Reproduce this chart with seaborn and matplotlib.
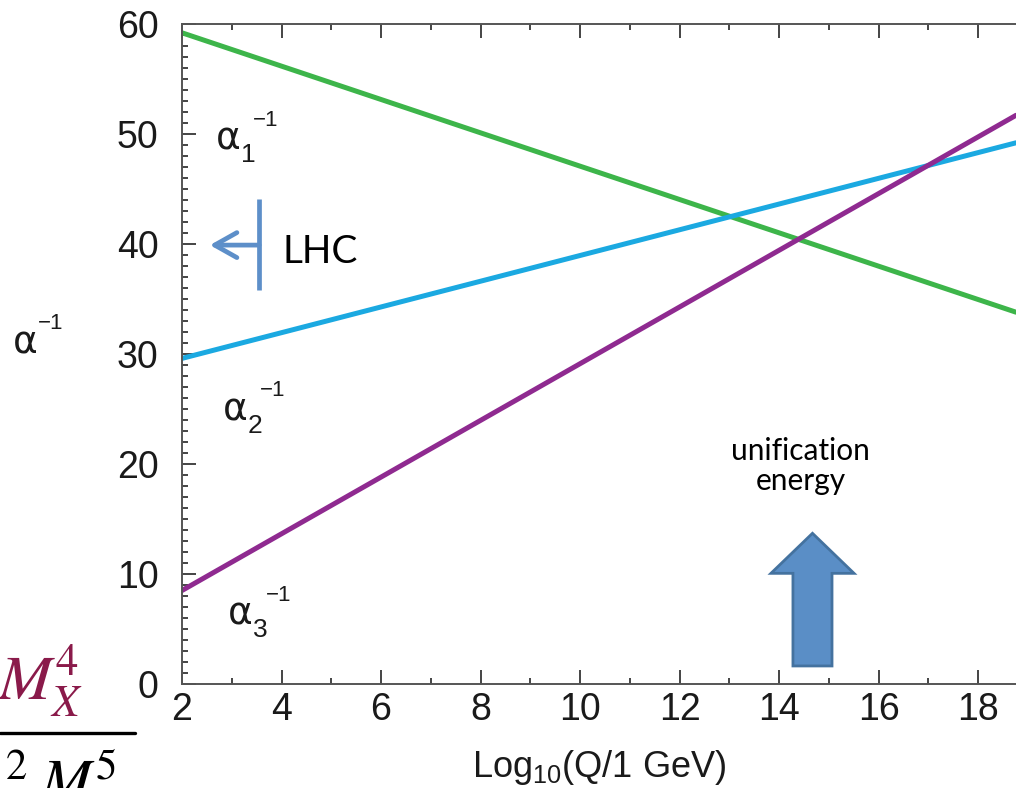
import pandas as pd
import numpy as np
import matplotlib.pyplot as plt
import seaborn as sns
from matplotlib.patches import FancyArrow
from matplotlib.ticker import MultipleLocator

# inverse couplings at the left edge (Q=100 GeV) and at the right edge of the plot
log_q = [2.0, 18.76]
alpha1_inv = [59.2, 33.8]
alpha2_inv = [29.6, 49.2]
alpha3_inv = [8.5, 51.7]

x_ticks = [2, 4, 6, 8, 10, 12, 14, 16, 18]
y_ticks = [0, 10, 20, 30, 40, 50, 60]

df = pd.DataFrame({
    "logQ": log_q * 3,
    "inv": alpha1_inv + alpha2_inv + alpha3_inv,
    "coupling": ["a1"] * 2 + ["a2"] * 2 + ["a3"] * 2,
})
colors = {"a1": "#3db54a", "a2": "#1ba9e1", "a3": "#8f2a90"}

sns.set_style("ticks")
plt.rcParams["font.family"] = ["Liberation Sans", "DejaVu Sans"]
plt.rcParams["mathtext.default"] = "regular"

fig = plt.figure(figsize=(10.16, 7.88), dpi=100)
ax = fig.add_axes([182 / 1016, 1 - 684 / 788, 1 - 182 / 1016, (684 - 24) / 788])

sns.lineplot(data=df, x="logQ", y="inv", hue="coupling", palette=colors,
             linewidth=3.6, legend=False, ax=ax)

ax.set_xlim(2, 18.76)
ax.set_ylim(0, 60)
ax.set_xticks(x_ticks)
ax.set_yticks(y_ticks)
ax.xaxis.set_minor_locator(MultipleLocator(1))
ax.yaxis.set_minor_locator(MultipleLocator(1))
ax.tick_params(which="both", direction="in", top=True, right=False,
               color="#444444", width=1.4, labelsize=27, labelcolor="#1a1a1a")
ax.tick_params(which="major", length=10)
ax.tick_params(which="minor", length=4.5)
ax.tick_params(axis="x", pad=6)
ax.tick_params(axis="y", pad=17)
for s in ["left", "bottom", "top"]:
    ax.spines[s].set_visible(True)
    ax.spines[s].set_color("#555555")
    ax.spines[s].set_linewidth(1.4)
ax.spines["right"].set_visible(False)

ax.set_xlabel(r"Log$_{10}$(Q/1 GeV)", fontsize=26, color="#1a1a1a", labelpad=14)
ax.set_ylabel("")


def alpha_label(x, y, sub, trans):
    # alpha, subscript and a raised -1 placed after the subscript
    kw = dict(xy=(x, y), xycoords=trans, textcoords="offset points",
              color="#1a1a1a", ha="left", va="baseline")
    ax.annotate("α", xytext=(0, 0), fontsize=27, family="DejaVu Sans", **kw)
    if sub:
        ax.annotate(sub, xytext=(18, -9), fontsize=19, **kw)
        ax.annotate("\u22121", xytext=(27, 17), fontsize=16, **kw)
    else:
        ax.annotate("\u22121", xytext=(18, 17), fontsize=16, **kw)


alpha_label(2.68, 48.6, "1", ax.transData)
alpha_label(2.82, 24.0, "2", ax.transData)
alpha_label(2.93, 5.4, "3", ax.transData)
alpha_label(13 / 1016, 1 - 353 / 788, "", fig.transFigure)

# LHC marker
lhc_col = "#5d8fc9"
ax.plot([3.55, 3.55], [35.8, 44.1], color=lhc_col, lw=3.4, solid_capstyle="butt")
ax.annotate("", xy=(2.56, 39.9), xytext=(3.55, 39.9),
            arrowprops=dict(arrowstyle="->,head_length=0.8,head_width=0.45",
                            mutation_scale=20, lw=3.4, color=lhc_col,
                            shrinkA=0, shrinkB=0))
ax.text(4.01, 38.3, "LHC", fontsize=28, family="Lato", color="black",
        ha="left", va="baseline")

# unification arrow
ax.add_patch(FancyArrow(14.67, 1.64, 0, 12.06, width=0.785, head_width=1.67,
                        head_length=3.64, length_includes_head=True,
                        fc="#5a8ec6", ec="#44729f", lw=2))
ax.text(14.43, 17.6, "unification\nenergy", fontsize=21.5, family="Lato",
        color="black", ha="center", va="baseline", linespacing=1.1,
        multialignment="center")

# fragment of an equation from the neighbouring slide
fig.text(-3 / 1016, 1 - 700 / 788, r"$\mathit{M}_{\mathit{X}}^{\mathrm{4}}$",
         fontsize=46, color="#8a1a4a", math_fontfamily="stix",
         ha="left", va="baseline")
fig.add_artist(plt.Line2D([0, 135 / 1016], [1 - 733 / 788] * 2, color="black",
                          lw=2.4, transform=fig.transFigure))
fig.text(5 / 1016, 1 - 802 / 788, r"$^{\mathrm{2}}\;\mathit{M}^{\mathrm{5}}$",
         fontsize=44, color="black", math_fontfamily="stix",
         ha="left", va="baseline")

fig.savefig("out.png", dpi=100)
